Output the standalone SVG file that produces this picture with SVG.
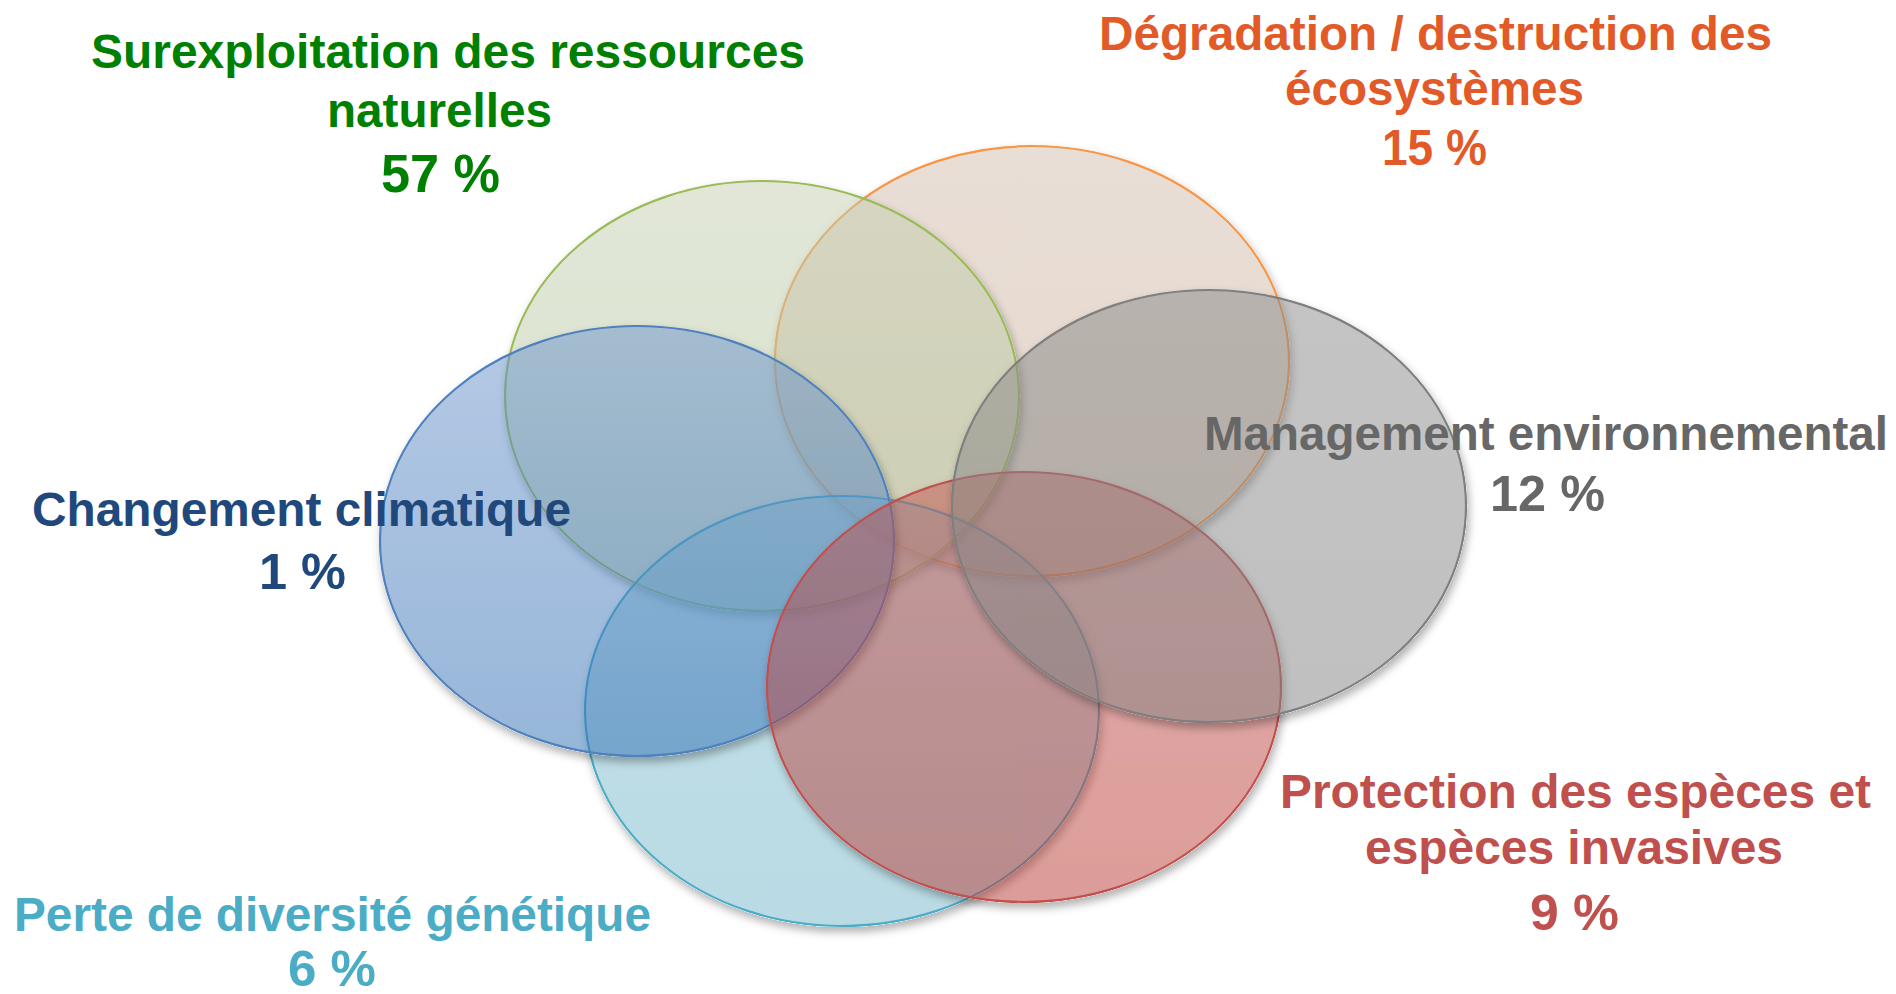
<svg xmlns="http://www.w3.org/2000/svg" width="1896" height="994" viewBox="0 0 1896 994">
<style>
.lbl{font-family:"Liberation Sans Narrow","Liberation Sans",Arial,sans-serif;font-weight:bold;font-size:48px}
.pct{font-size:50px}
.ell{stroke-width:2.2;filter:url(#sh)}
</style>
<defs>
<filter id="sh" x="-10%" y="-10%" width="120%" height="130%">
<feColorMatrix in="SourceAlpha" type="matrix" values="0 0 0 0 0  0 0 0 0 0  0 0 0 0 0  0 0 0 5 0" result="a"/>
<feGaussianBlur in="a" stdDeviation="4" result="b"/>
<feOffset in="b" dx="2" dy="5" result="c"/>
<feComposite in="c" in2="a" operator="out" result="d"/>
<feColorMatrix in="d" type="matrix" values="0 0 0 0 0  0 0 0 0 0  0 0 0 0 0  0 0 0 0.3 0" result="e"/>
<feMerge><feMergeNode in="e"/><feMergeNode in="SourceGraphic"/></feMerge>
</filter>
<linearGradient id="gGreen" x1="0" y1="0" x2="0" y2="1"><stop offset="0" stop-color="#C5CFB0" stop-opacity="0.5"/><stop offset="1" stop-color="#B3C598" stop-opacity="0.5"/></linearGradient>
<linearGradient id="gOrange" x1="0" y1="0" x2="0" y2="1"><stop offset="0" stop-color="#D3BEAD" stop-opacity="0.5"/><stop offset="1" stop-color="#CDB19B" stop-opacity="0.5"/></linearGradient>
<linearGradient id="gGray" x1="0" y1="0" x2="0" y2="1"><stop offset="0" stop-color="#8A8A8A" stop-opacity="0.5"/><stop offset="1" stop-color="#828282" stop-opacity="0.5"/></linearGradient>
<linearGradient id="gBlue" x1="0" y1="0" x2="0" y2="1"><stop offset="0" stop-color="#6B95CC" stop-opacity="0.5"/><stop offset="1" stop-color="#2F6DB4" stop-opacity="0.5"/></linearGradient>
<linearGradient id="gLBlue" x1="0" y1="0" x2="0" y2="1"><stop offset="0" stop-color="#8BC2D2" stop-opacity="0.5"/><stop offset="1" stop-color="#74B7CA" stop-opacity="0.5"/></linearGradient>
<linearGradient id="gRed" x1="0" y1="0" x2="0" y2="1"><stop offset="0" stop-color="#C04E4A" stop-opacity="0.48"/><stop offset="1" stop-color="#B5322A" stop-opacity="0.48"/></linearGradient>
</defs>
<rect width="1896" height="994" fill="#FFFFFF"/>
<g id="connectors"></g>
<g id="node-degradation">
<ellipse class="ell" cx="1032" cy="361" rx="257" ry="215" fill="url(#gOrange)" stroke="#F79646"/>
<text class="lbl" fill="#E15A27" x="1099" y="50" textLength="673" lengthAdjust="spacingAndGlyphs">Dégradation / destruction des</text>
<text class="lbl" fill="#E15A27" x="1285" y="105" textLength="299" lengthAdjust="spacingAndGlyphs">écosystèmes</text>
<text class="lbl pct" fill="#E15A27" x="1382" y="165" textLength="105" lengthAdjust="spacingAndGlyphs">15 %</text>
</g>
<g id="node-surexploitation">
<ellipse class="ell" cx="762" cy="396" rx="257" ry="215" fill="url(#gGreen)" stroke="#9BBB59"/>
<text class="lbl" fill="#008000" x="91" y="68" textLength="714" lengthAdjust="spacingAndGlyphs">Surexploitation des ressources</text>
<text class="lbl" fill="#008000" x="327" y="127" textLength="225" lengthAdjust="spacingAndGlyphs">naturelles</text>
<text class="lbl" fill="#008000" style="font-size:53px" x="381" y="192" textLength="119" lengthAdjust="spacingAndGlyphs">57 %</text>
</g>
<g id="node-genetique">
<ellipse class="ell" cx="842" cy="711" rx="257" ry="215" fill="url(#gLBlue)" stroke="#4BACC6"/>
<text class="lbl" fill="#4BACC6" x="14" y="931" textLength="637" lengthAdjust="spacingAndGlyphs">Perte de diversité génétique</text>
<text class="lbl pct" fill="#4BACC6" x="288" y="986" textLength="88" lengthAdjust="spacingAndGlyphs">6 %</text>
</g>
<g id="node-climat">
<ellipse class="ell" cx="637" cy="541" rx="257" ry="215" fill="url(#gBlue)" stroke="#4F81BD"/>
<text class="lbl" fill="#1F497D" x="32" y="526" textLength="539" lengthAdjust="spacingAndGlyphs">Changement climatique</text>
<text class="lbl pct" fill="#1F497D" x="259" y="589" textLength="87" lengthAdjust="spacingAndGlyphs">1 %</text>
</g>
<g id="node-protection">
<ellipse class="ell" cx="1024" cy="687" rx="257" ry="215" fill="url(#gRed)" stroke="#C0504D"/>
<text class="lbl" fill="#C0504D" x="1280" y="808" textLength="591" lengthAdjust="spacingAndGlyphs">Protection des espèces et</text>
<text class="lbl" fill="#C0504D" x="1365" y="864" textLength="418" lengthAdjust="spacingAndGlyphs">espèces invasives</text>
<text class="lbl pct" fill="#C0504D" x="1530" y="930" textLength="89" lengthAdjust="spacingAndGlyphs">9 %</text>
</g>
<g id="node-management">
<ellipse class="ell" cx="1209" cy="506" rx="257" ry="216" fill="url(#gGray)" stroke="#7F7F7F"/>
<text class="lbl" fill="#676767" x="1204" y="450" textLength="684" lengthAdjust="spacingAndGlyphs">Management environnemental</text>
<text class="lbl pct" fill="#676767" x="1490" y="511" textLength="115" lengthAdjust="spacingAndGlyphs">12 %</text>
</g>
</svg>
